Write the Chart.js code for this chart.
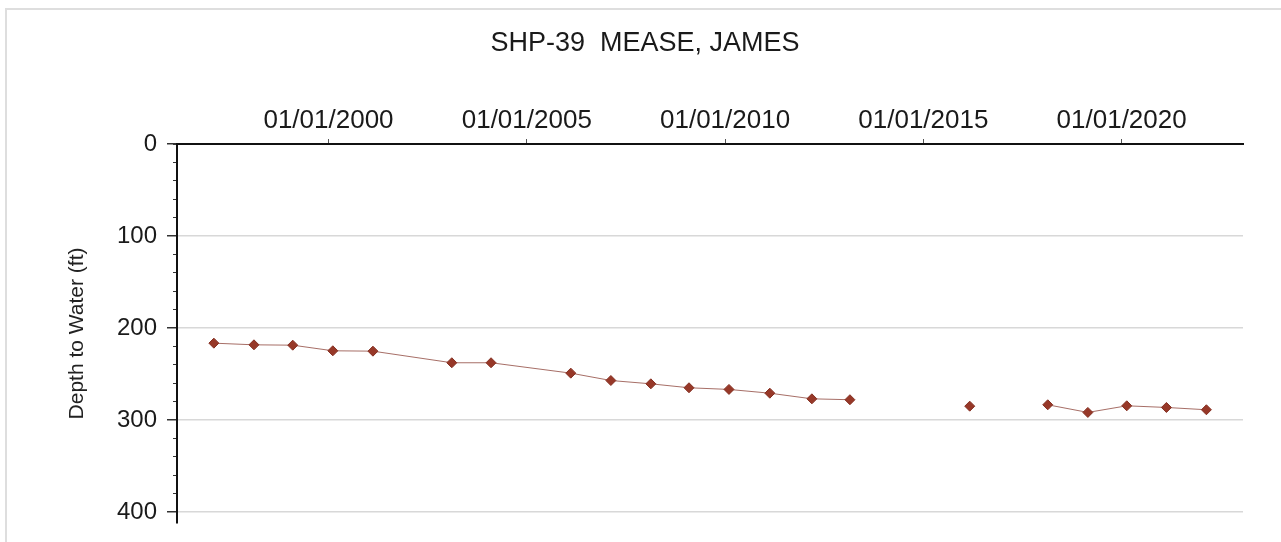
<!DOCTYPE html>
<html>
<head>
<meta charset="utf-8">
<script src="https://cdn.jsdelivr.net/npm/chart.js@4.4.0/dist/chart.umd.min.js"></script>
<style>
  html, body { margin: 0; padding: 0; background: #fff; }
  #wrap { position: relative; width: 1281px; height: 542px; overflow: hidden; }
  #frame { position: absolute; left: 5px; top: 8px; width: 1300px; height: 600px; border: 2px solid #dedede; }
  #chartBox { position: absolute; left: 0; top: 0; width: 1281px; height: 542px; }
</style>
</head>
<body>
<div id="wrap">
  <div id="frame"></div>
  <div id="chartBox"><canvas id="myChart"></canvas></div>
</div>
<script>
const chartTitle = 'SHP-39  MEASE, JAMES';
const yAxisTitle = 'Depth to Water (ft)';

// measurement dates (null depth = no reading, breaks the line)
const sampleDates = [
  '1997-02-10', '1998-02-14', '1999-02-06', '2000-02-10', '2001-02-14',
  '2003-02-10', '2004-02-06', '2006-02-10', '2007-02-14', '2008-02-17',
  '2009-02-03', '2010-02-06', '2011-02-17', '2012-03-10', '2013-02-24',
  '2014-02-15', '2015-02-15', '2016-03-03', '2017-02-15', '2018-02-20',
  '2019-02-24', '2020-02-17', '2021-02-17', '2022-02-20'
];
const depthToWater = [
  216.5, 218.3, 218.7, 224.8, 225.2,
  237.8, 237.8, 249.1, 257.1, 260.7,
  265.0, 266.8, 270.9, 277.0, 278.0,
  null, null, 285.0, null, 283.5,
  291.8, 284.6, 286.4, 288.9
];
const xStart = 1996.18;
const xEnd = 2023.06;
const yearStep = 5;
const depthMax = 412;

function toYear(s) {
  const [y, m, d] = s.split('-').map(Number);
  const start = Date.UTC(y, 0, 1);
  const day = (Date.UTC(y, m - 1, d) - start) / 86400000;
  return y + day / 365.25;
}

const points = sampleDates.map((d, i) => ({ x: toYear(d), y: depthToWater[i] }));

Chart.defaults.font.family = '"Liberation Sans", Arial, sans-serif';
Chart.defaults.color = '#1a1a1a';

new Chart(document.getElementById('myChart'), {
  type: 'line',
  data: {
    datasets: [{
      label: 'Depth',
      data: points,
      yAxisID: 'y',
      borderColor: 'rgba(150,85,75,0.85)',
      borderWidth: 1,
      pointStyle: 'rectRot',
      pointRadius: 5,
      pointBackgroundColor: '#973828',
      pointBorderColor: '#853022',
      pointBorderWidth: 1,
      spanGaps: false,
      tension: 0
    }]
  },
  options: {
    responsive: true,
    maintainAspectRatio: false,
    animation: false,
    layout: { padding: { left: 47, right: 38, top: 0, bottom: 19 } },
    plugins: {
      legend: { display: false },
      tooltip: { enabled: false },
      title: {
        display: true,
        text: chartTitle,
        color: '#1a1a1a',
        font: { size: 27, weight: 'normal', lineHeight: 1 },
        padding: { top: 30, bottom: 9 }
      }
    },
    scales: {
      x: {
        type: 'linear',
        position: 'top',
        min: xStart,
        max: xEnd,
        afterFit: (scale) => { scale.height = 78; },
        border: { display: true, color: '#111', width: 2 },
        grid: { drawOnChartArea: false, drawTicks: true, tickLength: 5, tickColor: '#555' },
        ticks: {
          stepSize: yearStep,
          includeBounds: false,
          maxRotation: 0,
          padding: 3,
          font: { size: 26 },
          color: '#1a1a1a',
          callback: (v) => '01/01/' + v
        }
      },
      y: {
        type: 'linear',
        position: 'left',
        weight: 1,
        reverse: true,
        min: 0,
        max: depthMax,
        afterFit: (scale) => {
          scale.width = 130;
          scale.paddingTop = 0;
          scale.paddingBottom = 0;
        },
        border: { display: true, color: '#111', width: 2 },
        grid: {
          color: (ctx) => (ctx.tick && ctx.tick.value === 0) ? 'rgba(0,0,0,0)' : '#d8d8d8',
          lineWidth: 1.5,
          tickLength: 10,
          tickColor: '#333'
        },
        ticks: {
          stepSize: 100,
          includeBounds: false,
          padding: 10,
          font: { size: 24 },
          color: '#1a1a1a'
        },
        title: {
          display: true,
          text: yAxisTitle,
          color: '#222',
          font: { size: 21 },
          padding: { top: 18, bottom: 0 }
        }
      },
      yMinor: {
        type: 'linear',
        position: 'left',
        weight: 0,
        reverse: true,
        min: 0,
        max: depthMax,
        afterFit: (scale) => {
          scale.width = 0;
          scale.paddingTop = 0;
          scale.paddingBottom = 0;
        },
        border: { display: false },
        grid: { drawOnChartArea: false, tickLength: 4, tickColor: '#333' },
        ticks: { stepSize: 20, includeBounds: false, display: false }
      }
    }
  }
});
</script>
</body>
</html>
